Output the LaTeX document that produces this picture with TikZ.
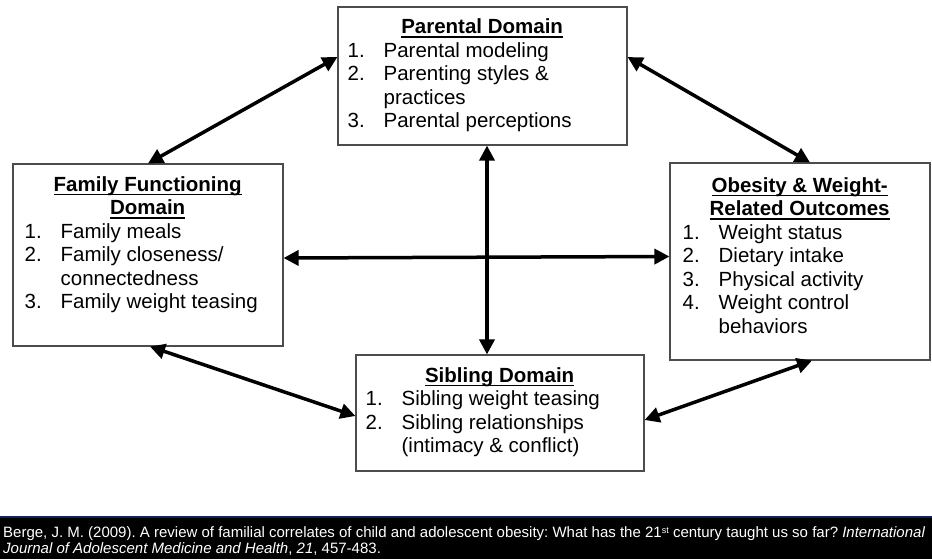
\documentclass[tikz,border=0pt]{standalone}
\usepackage{fontspec}
\setmainfont{Liberation Sans}
\usetikzlibrary{arrows.meta}
\frenchspacing

% underlined heading with a fixed rule just below the baseline
\newcommand{\hdul}[1]{\mbox{\setbox0\hbox{#1}\rlap{\rule[-4pt]{\wd0}{1.8pt}}\box0}}
% numbered entry with hanging indent
\newcommand{\entry}[2]{\par\noindent\hangindent=36pt\hangafter=1\makebox[36pt][l]{#1}#2\par}
% line break that stays inside the current entry
\newcommand{\nl}{\hfil\break}
% text block of a domain box; base anchor = first baseline
\newcommand{\boxtext}[2]{\parbox[t]{#1}{\fontsize{20.5}{23.5}\selectfont\raggedright #2}}

\definecolor{navyline}{RGB}{20,36,90}

\tikzset{
  dombox/.style={draw=black!70, line width=1.1pt, fill=white, inner sep=0pt},
  twoway/.style={line width=3.5pt, {Triangle[length=15pt,width=15pt]}-{Triangle[length=15pt,width=15pt]}},
  boxlabel/.style={anchor=base west, inner sep=0pt},
  refline/.style={anchor=base west, inner sep=0pt, text=white, font=\fontsize{15}{16}\selectfont}
}

\begin{document}
\begin{tikzpicture}[x=1pt,y=-1pt]
\useasboundingbox (0,0) rectangle (932,559);

% domain boxes
\node[dombox, minimum width=289pt, minimum height=138pt] (par) at (482.5,76) {};
\node[dombox, minimum width=270pt, minimum height=182pt] (fam) at (148,255) {};
\node[dombox, minimum width=260pt, minimum height=197pt] (obe) at (800,261.5) {};
\node[dombox, minimum width=288pt, minimum height=116pt] (sib) at (500,413) {};

% box contents
\node[boxlabel] (partext) at ([xshift=10pt,yshift=-27.5pt]par.north west) {\boxtext{269pt}{%
  {\centering\hdul{\textbf{Parental Domain}}\par}
  \entry{1.}{Parental modeling}
  \entry{2.}{Parenting styles \&\nl practices}
  \entry{3.}{Parental perceptions}}};

\node[boxlabel] (famtext) at ([xshift=12pt,yshift=-28pt]fam.north west) {\boxtext{246pt}{%
  {\centering\hdul{\textbf{Family Functioning}}\\\hdul{\textbf{Domain}}\par}
  \entry{1.}{Family meals}
  \entry{2.}{Family closeness/\nl connectedness}
  \entry{3.}{Family weight teasing}}};

\node[boxlabel] (obetext) at ([xshift=13pt,yshift=-30pt]obe.north west) {\boxtext{234pt}{%
  {\centering\hdul{\textbf{Obesity \& Weight-}}\\\hdul{\textbf{Related Outcomes}}\par}
  \entry{1.}{Weight status}
  \entry{2.}{Dietary intake}
  \entry{3.}{Physical activity}
  \entry{4.}{Weight control\nl behaviors}}};

\node[boxlabel] (sibtext) at ([xshift=10pt,yshift=-28pt]sib.north west) {\boxtext{268pt}{%
  {\centering\hdul{\textbf{Sibling Domain}}\par}
  \entry{1.}{Sibling weight teasing}
  \entry{2.}{Sibling relationships\nl (intimacy \& conflict)}}};

% two-way links between domains
\coordinate (vtop) at ([xshift=4.5pt]par.south);
\draw[twoway] ([yshift=19pt]par.west) -- (fam.north);
\draw[twoway] ([yshift=19pt]par.east) -- ([xshift=10pt]obe.north);
\draw[twoway] (vtop) -- (vtop |- sib.north);
\draw[twoway] ([yshift=-3pt]fam.east) -- ([yshift=5pt]obe.west);
\draw[twoway] ([xshift=2pt]fam.south) -- ([yshift=-3pt]sib.west);
\draw[twoway] ([yshift=-7pt]sib.east) -- ([xshift=12pt]obe.south);

% reference band
\fill[black] (0,517) rectangle (932,559);
\draw[navyline, line width=1.2pt] (0,517) -- (932,517);
\node[refline] (ref1) at (3,537) {Berge, J. M. (2009). A review of familial correlates of child and adolescent obesity: What has the 21{\fontsize{9}{9}\selectfont\raisebox{4pt}{st}} century taught us so far? \textit{International}};
\node[refline] (ref2) at (3,553) {\textit{Journal of Adolescent Medicine and Health}, \textit{21}, 457-483.};
\end{tikzpicture}
\end{document}
